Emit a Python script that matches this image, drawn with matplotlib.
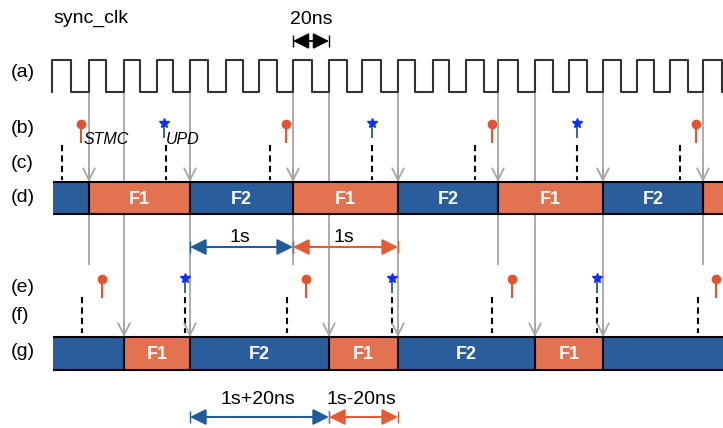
import matplotlib.pyplot as plt
from matplotlib.patches import Rectangle

# timing diagram drawn in pixel-like units (x = time, y = row position)
clk_rise = [52, 89, 124, 157, 190, 226, 259, 293, 329, 362, 398, 433, 466, 498, 535, 569, 603, 637, 670, 703]
clk_fall = [71, 106, 140, 173, 208, 243, 277, 312, 347, 381, 415, 449, 484, 518, 553, 587, 621, 654, 688, 722]

# frame boundaries in row (d) and row (g)
d_edges = [53, 89, 190, 293, 398, 498, 603, 703, 723]
d_names = ['', 'F1', 'F2', 'F1', 'F2', 'F1', 'F2', '']
g_edges = [53, 124, 190, 329, 398, 535, 603, 723]
g_names = ['', 'F1', 'F2', 'F1', 'F2', 'F1', '']

# events
stmc_top = [81, 286, 492, 696]
upd_top = [164, 372, 577]
c_marks = [62, 166, 270, 372, 475, 577, 680]
stmc_low = [102, 306, 512, 716]
upd_low = [185, 392, 597]
f_marks = [82, 185, 287, 392, 492, 597, 698]

# guide lines from the clock
d_only = [89, 293, 498, 703]
d_and_g = [190, 398, 603]
g_only = [124, 329, 535]

row_labels = ['(a)', '(b)', '(c)', '(d)', '(e)', '(f)', '(g)']
row_y = [72, 128, 163, 197, 287, 315, 352]

BLUE = '#2a5d9b'
ORANGE = '#e37251'
GRAY = '#a6a6a6'
ARR_BLUE = '#1f5c9a'
ARR_ORANGE = '#e45b34'
STAR = '#1030f0'
PIN = '#e0552f'

CLK_HI, CLK_LO = 60, 92
D_TOP, D_BOT = 182, 214
G_TOP, G_BOT = 337, 370

plt.rcParams['font.family'] = ['Liberation Sans', 'DejaVu Sans']

fig = plt.figure(figsize=(7.23, 4.28), dpi=100)
ax = fig.add_axes([0, 0, 1, 1])
ax.set_xlim(0, 723)
ax.set_ylim(428, 0)
ax.axis('off')


def open_arrow(x, tip):
    ax.annotate('', xy=(x, tip), xytext=(x, tip - 14),
                arrowprops=dict(arrowstyle='->,head_length=0.7,head_width=0.35',
                                color=GRAY, lw=1.3, shrinkA=0, shrinkB=0,
                                mutation_scale=12), zorder=4)


def span_arrow(x0, x1, y, color, text=None, ty=None):
    ax.annotate('', xy=(x1, y), xytext=(x0, y),
                arrowprops=dict(arrowstyle='<|-|>,head_length=0.8,head_width=0.4',
                                color=color, lw=1.5, shrinkA=0, shrinkB=0,
                                mutation_scale=12), zorder=5)
    ax.vlines([x0, x1], y - 6, y + 6, color=color, lw=1, zorder=5)
    if text:
        ax.text((x0 + x1) / 2 - 2, ty, text, ha='center', va='center', fontsize=14)


def frame_row(edges, names, top, bot):
    for i, name in enumerate(names):
        col = ORANGE if i % 2 == 1 else BLUE
        ax.add_patch(Rectangle((edges[i], top), edges[i + 1] - edges[i], bot - top,
                               facecolor=col, edgecolor='none', zorder=3))
        if name:
            ax.text((edges[i] + edges[i + 1]) / 2, (top + bot) / 2 + 1, name,
                    color='white', fontsize=13, fontweight='bold',
                    ha='center', va='center', zorder=6)
    ax.hlines([top, bot], edges[0], edges[-1], color='black', lw=1.5, zorder=4)
    ax.vlines(edges[1:-1], top, bot, color='black', lw=1.5, zorder=4)


# clock waveform
xs, ys = [clk_rise[0]], [CLK_LO]
for r, f in zip(clk_rise, clk_fall):
    xs += [r, r, f, f]
    ys += [CLK_LO, CLK_HI, CLK_HI, CLK_LO]
xs.append(723)
ys.append(CLK_LO)
ax.plot(xs, ys, color='#333333', lw=1.5, zorder=3)

# guide lines
ax.vlines(d_only, CLK_LO, 265, color=GRAY, lw=1.3, zorder=1)
ax.vlines(d_and_g + g_only, CLK_LO, G_TOP, color=GRAY, lw=1.3, zorder=1)
for x in d_only + d_and_g:
    open_arrow(x, D_TOP)
for x in d_and_g + g_only:
    open_arrow(x, G_TOP)

frame_row(d_edges, d_names, D_TOP, D_BOT)
frame_row(g_edges, g_names, G_TOP, G_BOT)

# (b)/(e) pins and stars, (c)/(f) dashed marks
for xlist, cy, sy in [(stmc_top, 124, 143), (stmc_low, 279, 298)]:
    ax.vlines(xlist, cy, sy, color=PIN, lw=1.5, zorder=3)
    ax.plot(xlist, [cy] * len(xlist), 'o', color=PIN, ms=6, zorder=4)
for xlist, cy, sy in [(upd_top, 123, 138), (upd_low, 278, 293)]:
    ax.vlines(xlist, cy, sy, color=ARR_BLUE, lw=1.3, zorder=3)
    ax.plot(xlist, [cy] * len(xlist), '*', color=STAR, ms=7, zorder=4)
ax.vlines(c_marks, 145, 180, color='black', lw=1.5, linestyles=(0, (3, 2)), zorder=2)
ax.vlines(f_marks, 297, 333, color='black', lw=1.5, linestyles=(0, (3, 2)), zorder=2)

ax.text(84, 140, 'STMC', fontsize=11.5, style='italic', va='center', ha='left')
ax.text(166, 140, 'UPD', fontsize=11.5, style='italic', va='center', ha='left')

# labels
for lab, y in zip(row_labels, row_y):
    ax.text(11, y, lab, fontsize=14, va='center', ha='left')
ax.text(53, 18, 'sync_clk', fontsize=14, va='center', ha='left')
ax.text(311, 19, '20ns', fontsize=14, va='center', ha='center')

# spans
ax.annotate('', xy=(clk_rise[8], 41), xytext=(clk_rise[7], 41),
            arrowprops=dict(arrowstyle='<|-|>,head_length=0.8,head_width=0.4',
                            color='black', lw=1.3, shrinkA=0, shrinkB=0,
                            mutation_scale=12))
ax.vlines([clk_rise[7], clk_rise[8]], 35, 47, color='black', lw=1)

span_arrow(d_edges[2], d_edges[3], 247, ARR_BLUE, '1s', 237)
span_arrow(d_edges[3], d_edges[4], 247, ARR_ORANGE, '1s', 237)
span_arrow(g_edges[2], g_edges[3], 417, ARR_BLUE, '1s+20ns', 400)
span_arrow(g_edges[3], g_edges[4], 417, ARR_ORANGE, '1s-20ns', 400)

plt.savefig('out.png', dpi=100)
